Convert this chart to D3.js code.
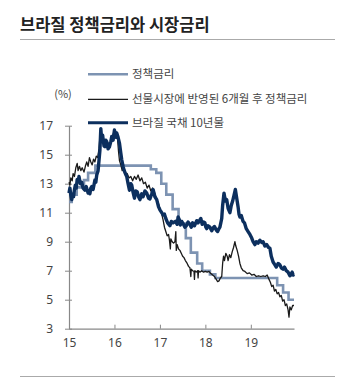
<!DOCTYPE html>
<html>
<head>
<meta charset="utf-8">
<script src="https://cdn.jsdelivr.net/npm/d3@7"></script>
<style>
  body { margin: 0; background: #fff; }
  text { font-family: "Noto Sans CJK KR", "Noto Sans", sans-serif; }
</style>
</head>
<body>
<svg id="chart" width="362" height="380"></svg>
<script>
// years are decimal (15.5 = mid 2015)
var yTicks = [3, 5, 7, 9, 11, 13, 15, 17];
var xTicks = [15, 16, 17, 18, 19];
var seriesNames = ["정책금리", "선물시장에 반영된 6개월 후 정책금리", "브라질 국채 10년물"];

// Selic policy rate, step changes
var policyRate = [
  [15.00, 11.75], [15.06, 12.25], [15.17, 12.75], [15.33, 13.25], [15.42, 13.75],
  [15.58, 14.25], [16.80, 14.00], [16.92, 13.75], [17.03, 13.00], [17.14, 12.25],
  [17.28, 11.25], [17.41, 10.25], [17.57, 9.25], [17.68, 8.25], [17.82, 7.50],
  [17.93, 7.00], [18.10, 6.75], [18.22, 6.50], [19.58, 6.00], [19.71, 5.50],
  [19.83, 5.00], [19.95, 5.00]
];

// rate priced in futures for 6 months ahead
var futures6m = [
  [15.00, 13.1], [15.02, 12.9], [15.04, 13.4], [15.07, 13.2], [15.09, 13.7], [15.12, 13.5],
  [15.15, 14.1], [15.18, 14.4], [15.20, 13.9], [15.23, 14.2], [15.26, 13.9], [15.29, 14.1],
  [15.33, 13.8], [15.36, 14.2], [15.39, 14.5], [15.42, 14.2], [15.45, 14.8], [15.48, 14.5],
  [15.51, 14.3], [15.54, 14.7], [15.57, 14.5], [15.60, 14.9], [15.63, 14.8], [15.66, 15.4],
  [15.68, 16.2], [15.70, 16.6], [15.72, 16.0], [15.75, 16.2], [15.78, 15.5], [15.81, 15.9],
  [15.84, 15.6], [15.87, 15.8], [15.90, 15.5], [15.93, 16.1], [15.96, 16.3], [15.99, 16.6],
  [16.02, 16.4], [16.05, 16.5], [16.07, 16.0], [16.09, 15.2], [16.11, 14.6], [16.14, 14.3],
  [16.17, 13.9], [16.20, 14.0], [16.24, 13.6], [16.28, 13.7], [16.32, 13.4], [16.36, 13.5],
  [16.40, 13.2], [16.44, 13.5], [16.48, 13.3], [16.52, 13.6], [16.56, 13.2], [16.60, 13.4],
  [16.64, 13.0], [16.68, 13.1], [16.72, 12.7], [16.76, 12.9], [16.80, 12.5], [16.84, 12.7],
  [16.86, 12.2], [16.88, 12.4], [16.92, 12.0], [16.96, 11.7], [17.00, 11.3], [17.04, 10.9],
  [17.07, 10.5], [17.10, 10.0], [17.13, 9.7], [17.16, 9.4], [17.19, 9.5], [17.21, 9.1],
  [17.23, 8.5], [17.24, 9.2], [17.27, 9.0], [17.30, 8.9], [17.33, 9.0], [17.35, 9.7],
  [17.36, 8.4], [17.38, 8.8], [17.41, 8.5], [17.44, 8.4], [17.47, 8.2], [17.50, 8.0],
  [17.53, 7.9], [17.56, 7.7], [17.60, 7.5], [17.63, 7.3], [17.66, 7.2], [17.68, 6.6],
  [17.69, 7.1], [17.72, 7.0], [17.75, 6.95], [17.76, 6.4], [17.77, 7.0], [17.80, 6.9],
  [17.83, 7.0], [17.84, 6.5], [17.85, 7.0], [17.88, 6.9], [17.92, 7.0], [17.96, 6.9],
  [18.00, 6.95], [18.04, 6.9], [18.08, 6.95], [18.12, 6.8], [18.16, 6.7], [18.20, 6.6],
  [18.24, 6.4], [18.27, 6.25], [18.30, 6.3], [18.33, 6.5], [18.36, 6.6], [18.38, 7.5],
  [18.40, 8.0], [18.42, 7.7], [18.45, 8.2], [18.48, 8.0], [18.50, 7.7], [18.53, 8.1],
  [18.56, 7.9], [18.59, 8.3], [18.62, 8.6], [18.65, 9.0], [18.67, 8.7], [18.70, 8.4],
  [18.73, 8.0], [18.76, 7.5], [18.79, 7.2], [18.83, 7.0], [18.87, 6.95], [18.92, 6.8],
  [18.97, 6.85], [19.02, 6.7], [19.07, 6.75], [19.12, 6.6], [19.17, 6.65], [19.22, 6.6],
  [19.27, 6.65], [19.32, 6.6], [19.36, 6.7], [19.40, 6.4], [19.43, 6.2], [19.46, 5.9],
  [19.49, 6.0], [19.52, 5.6], [19.55, 5.7], [19.58, 5.4], [19.61, 5.5], [19.64, 5.2],
  [19.67, 5.3], [19.70, 4.9], [19.73, 5.0], [19.76, 4.6], [19.79, 4.7], [19.82, 4.3],
  [19.84, 3.8], [19.86, 4.5], [19.89, 4.3], [19.92, 4.6], [19.95, 4.6]
];

// Brazil 10 year government bond yield
var bond10y = [
  [15.00, 12.35], [15.02, 12.7], [15.04, 12.2], [15.06, 11.9], [15.08, 12.3], [15.10, 12.1],
  [15.12, 12.6], [15.14, 12.9], [15.16, 12.7], [15.18, 13.3], [15.20, 13.1], [15.22, 13.5],
  [15.25, 13.0], [15.28, 13.1], [15.31, 12.7], [15.35, 12.55], [15.38, 12.8], [15.42, 12.35],
  [15.44, 12.5], [15.46, 12.3], [15.48, 12.7], [15.50, 12.8], [15.53, 12.6], [15.57, 13.25],
  [15.59, 13.1], [15.61, 13.6], [15.64, 13.9], [15.66, 14.6], [15.68, 15.3], [15.70, 16.8],
  [15.72, 16.0], [15.74, 16.35], [15.77, 15.6], [15.79, 15.55], [15.81, 16.0], [15.83, 15.9],
  [15.86, 15.4], [15.89, 15.55], [15.92, 15.9], [15.94, 16.25], [15.97, 16.0], [16.00, 16.7],
  [16.03, 16.2], [16.05, 16.5], [16.08, 16.2], [16.11, 15.8], [16.14, 15.1], [16.16, 14.65],
  [16.19, 14.2], [16.21, 13.95], [16.24, 13.7], [16.27, 13.5], [16.30, 13.0], [16.33, 12.55],
  [16.36, 13.0], [16.38, 12.9], [16.41, 12.4], [16.44, 12.0], [16.47, 12.5], [16.50, 12.45],
  [16.53, 12.1], [16.56, 11.9], [16.60, 12.3], [16.63, 12.1], [16.67, 12.5], [16.71, 12.35],
  [16.75, 12.0], [16.78, 11.95], [16.82, 12.3], [16.85, 12.6], [16.89, 12.1], [16.93, 11.9],
  [16.97, 11.4], [17.00, 11.2], [17.04, 11.0], [17.07, 10.85], [17.10, 10.9], [17.13, 10.6],
  [17.17, 10.3], [17.22, 10.1], [17.25, 10.4], [17.29, 10.3], [17.34, 10.4], [17.38, 10.2],
  [17.40, 10.7], [17.43, 10.5], [17.45, 10.15], [17.48, 10.4], [17.51, 10.25], [17.55, 10.0],
  [17.58, 10.1], [17.62, 10.35], [17.66, 10.2], [17.69, 10.0], [17.72, 10.3], [17.76, 10.1],
  [17.81, 10.45], [17.84, 10.3], [17.88, 10.5], [17.90, 10.6], [17.93, 10.2], [17.96, 10.35],
  [17.99, 10.3], [18.01, 10.0], [18.03, 9.9], [18.06, 10.1], [18.10, 10.0], [18.14, 9.75],
  [18.17, 9.95], [18.20, 10.05], [18.24, 9.8], [18.27, 9.7], [18.30, 9.9], [18.32, 10.0],
  [18.34, 10.3], [18.36, 10.6], [18.38, 11.5], [18.41, 12.35], [18.44, 11.8], [18.47, 11.9],
  [18.50, 11.3], [18.54, 11.0], [18.57, 11.5], [18.60, 11.8], [18.63, 12.2], [18.66, 12.6],
  [18.69, 12.0], [18.72, 11.4], [18.74, 10.9], [18.76, 10.7], [18.79, 10.8], [18.83, 10.4],
  [18.86, 10.3], [18.90, 9.9], [18.94, 9.7], [18.98, 9.5], [19.02, 9.25], [19.05, 9.0],
  [19.09, 8.8], [19.12, 9.0], [19.16, 8.9], [19.20, 9.1], [19.24, 8.95], [19.27, 9.0],
  [19.31, 8.7], [19.35, 8.8], [19.39, 8.6], [19.42, 8.55], [19.45, 8.0], [19.49, 7.6],
  [19.52, 7.45], [19.56, 7.25], [19.60, 7.5], [19.64, 7.4], [19.67, 7.2], [19.71, 7.1],
  [19.74, 7.25], [19.78, 7.0], [19.82, 6.9], [19.86, 6.65], [19.89, 6.8], [19.91, 6.9],
  [19.93, 6.7], [19.95, 6.75]
];

var colors = ["#7d93b2", "#1a1a1a", "#0c2f5e"];
var widths = [2.6, 1.3, 3.4];

var svg = d3.select("#chart");

var x = d3.scaleLinear().domain([15, 19.95]).range([69, 294]);
var y = d3.scaleLinear().domain([3, 17]).range([328.7, 125.7]);

// title and rules
svg.append("text")
  .attr("x", 20).attr("y", 31)
  .attr("font-size", "16.5px").attr("font-weight", "bold")
  .attr("fill", "#222")
  .text("브라질 정책금리와 시장금리");
svg.append("line").attr("x1", 20).attr("x2", 335).attr("y1", 39.5).attr("y2", 39.5)
  .style("stroke", "#aaa").style("stroke-width", 1);
svg.append("line").attr("x1", 20).attr("x2", 335).attr("y1", 376.5).attr("y2", 376.5)
  .style("stroke", "#aaa").style("stroke-width", 1);

// y axis
var yAxis = svg.append("g")
  .attr("transform", "translate(69,0)")
  .call(d3.axisLeft(y).tickValues(yTicks).tickSize(4).tickSizeOuter(0).tickPadding(12));
yAxis.selectAll(".tick line").attr("x2", -4).attr("x1", 3);

// x axis
var xAxis = svg.append("g")
  .attr("transform", "translate(0,328.7)")
  .call(d3.axisBottom(x).tickValues(xTicks).tickSize(-4).tickSizeOuter(0).tickPadding(10)
    .tickFormat(d3.format("d")));

[yAxis, xAxis].forEach(function(g){
  g.select(".domain").style("stroke", "#888").style("stroke-width", 1.2);
  g.selectAll(".tick line").style("stroke", "#888");
  g.selectAll(".tick text")
    .style("font-family", "'Noto Sans', sans-serif")
    .attr("font-size", "12px").attr("fill", "#444");
});

svg.append("text")
  .attr("x", 63).attr("y", 98)
  .attr("text-anchor", "middle")
  .attr("font-size", "11px").attr("fill", "#444")
  .text("(%)");

// lines
var line = d3.line().x(function(d){return x(d[0]);}).y(function(d){return y(d[1]);});
var stepLine = d3.line().curve(d3.curveStepAfter)
  .x(function(d){return x(d[0]);}).y(function(d){return y(d[1]);});

svg.append("path").datum(policyRate)
  .attr("d", stepLine).style("fill", "none")
  .style("stroke", colors[0]).style("stroke-width", widths[0]);
svg.append("path").datum(futures6m)
  .attr("d", line).style("fill", "none")
  .style("stroke", colors[1]).style("stroke-width", widths[1]).style("stroke-linejoin", "round");
svg.append("path").datum(bond10y)
  .attr("d", line).style("fill", "none")
  .style("stroke", colors[2]).style("stroke-width", widths[2]).style("stroke-linejoin", "round");

// legend
var legendY = [74.3, 99.3, 122.7];
var legend = svg.selectAll(".legend")
  .data(seriesNames)
  .enter()
  .append("g")
  .attr("class", "legend")
  .attr("transform", function(d, i){return "translate(88," + legendY[i] + ")";});
legend.append("line")
  .attr("x1", 0).attr("x2", 40)
  .style("stroke", function(d, i){return colors[i];})
  .style("stroke-width", function(d, i){return i == 2 ? 3 : widths[i];});
legend.append("text")
  .attr("x", 44).attr("y", 4)
  .attr("font-size", "11.5px").attr("fill", "#444")
  .text(function(d){return d;});
</script>
</body>
</html>
